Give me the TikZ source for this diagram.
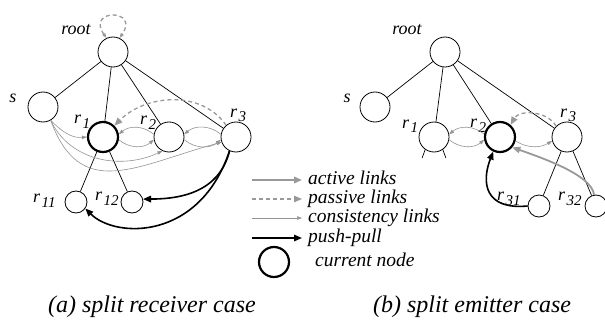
\documentclass[tikz,border=0pt]{standalone}
\usepackage{fontspec}
\setmainfont{Liberation Serif}
\usetikzlibrary{arrows.meta}
\newcommand{\rsub}[1]{r\kern1.5pt\raisebox{-5pt}{\fontsize{15}{16}\selectfont #1}}
\tikzset{
  >=latex,
  bigtip/.tip={Triangle[length=8pt,width=6.5pt]},
  smalltip/.tip={Triangle[length=5pt,width=3.5pt]},
}
\tikzstyle{every node}=[font=\itshape\fontsize{18}{20}\selectfont]
\tikzstyle{peer}=[circle,draw,line width=0.8pt,minimum size=30pt,inner sep=0pt]
\tikzstyle{leaf}=[circle,draw,line width=0.8pt,minimum size=22pt,inner sep=0pt]
\tikzstyle{current}=[line width=2.2pt]
\tikzstyle{tree}=[line width=0.7pt]
\tikzstyle{lbl}=[anchor=base west,inner sep=0pt]
\tikzstyle{active}=[line width=1.8pt,gray!80,-bigtip]
\tikzstyle{passive}=[line width=1.3pt,gray!80,dash pattern=on 4pt off 3pt,-bigtip]
\tikzstyle{consist}=[line width=0.6pt,gray!85,-smalltip]
\tikzstyle{pushpull}=[line width=1.6pt,-bigtip]
\tikzstyle{legend}=[font=\itshape\fontsize{19.5}{21}\selectfont,anchor=base west,inner sep=0pt]
\tikzstyle{caption}=[font=\itshape\fontsize{24}{26}\selectfont,anchor=base,inner sep=0pt]

\begin{document}
\begin{tikzpicture}[x=1pt,y=1pt]
    \useasboundingbox (0,0) rectangle (605,322);
    % (a) split receiver case
    \node[peer] (aroot) at (113,270) {};
    \node[peer] (as) at (43,215) {};
    \node[peer,current] (ar1) at (103,185) {};
    \node[peer] (ar2) at (169,185) {};
    \node[peer] (ar3) at (236,185) {};
    \node[leaf] (ar11) at (76,120) {};
    \node[leaf] (ar12) at (132,120) {};
    \foreach \n in {as,ar1,ar2,ar3} \draw[tree] (aroot)--(\n);
    \foreach \n in {ar11,ar12} \draw[tree] (ar1)--(\n);
    \node[anchor=base,inner sep=0pt] (arootl) at (76,287) {root};
    \node[anchor=base,inner sep=0pt] (asl) at (13,220) {s};
    \node[lbl] (ar1l) at (74,199) {\rsub{1}};
    \node[lbl] (ar2l) at (140,197) {\rsub{2}};
    \node[lbl] (ar3l) at (230,205) {\rsub{3}};
    \node[lbl] (ar11l) at (33,120) {\rsub{11}};
    \node[lbl] (ar12l) at (95,122) {\rsub{12}};
    \draw[passive,smalltip-smalltip] (aroot.115) .. controls +(125:36) and +(55:36) .. (aroot.65);
    \draw[passive] (ar3.130) to[out=125,in=45] (ar1.45);
    \draw[consist] (ar2.170) to[bend right=40] (ar1.10);
    \draw[consist] (ar1.-10) to[bend right=40] (ar2.190);
    \draw[consist] (ar3.170) to[bend right=40] (ar2.10);
    \draw[consist] (ar2.-10) to[bend right=40] (ar3.190);
    \draw[consist] (as.-60) to[out=-45,in=185] (ar1.180);
    \draw[consist] (as.-60) to[out=-65,in=205] (ar2.-115);
    \draw[consist] (as.-60) to[out=-70,in=195,looseness=1.3] (ar3.200);
    \draw[pushpull] (ar3.-115) .. controls +(-10,-40) and +(40,0) .. (ar12.15);
    \draw[pushpull] (ar3.-115) .. controls +(-30,-90) and +(30,-30) .. (ar11.-35);

    % (b) split emitter case
    \node[peer] (broot) at (445,270) {};
    \node[peer] (bs) at (375,215) {};
    \node[peer] (br1) at (434,185) {};
    \node[peer,current] (br2) at (500,185) {};
    \node[peer] (br3) at (567,185) {};
    \node[leaf] (br31) at (539,116) {};
    \node[leaf] (br32) at (596,116) {};
    \foreach \n in {bs,br1,br2,br3} \draw[tree] (broot)--(\n);
    \foreach \n in {br31,br32} \draw[tree] (br3)--(\n);
    \draw[tree] (br1.-125) -- +(-110:9);
    \draw[tree] (br1.-55) -- +(-70:9);
    \node[anchor=base,inner sep=0pt] (brootl) at (407,287) {root};
    \node[anchor=base,inner sep=0pt] (bsl) at (347,220) {s};
    \node[lbl] (br1l) at (402,194) {\rsub{1}};
    \node[lbl] (br2l) at (470,195) {\rsub{2}};
    \node[lbl] (br3l) at (560,205) {\rsub{3}};
    \node[lbl] (br31l) at (497,122) {\rsub{31}};
    \node[lbl] (br32l) at (558,122) {\rsub{32}};
    \draw[passive] (br3.135) to[out=120,in=60] (br2.49);
    \draw[consist] (br2.170) to[bend right=40] (br1.10);
    \draw[consist] (br1.-10) to[bend right=40] (br2.190);
    \draw[consist] (br2.-15) to[bend right=30] (br3.195);
    \draw[active] (br32.100) .. controls +(-2,20) and +(28,-10) .. (br2.-40);
    \draw[pushpull] (br31.180) .. controls +(-43,-4) and +(-12,-31) .. (br2.-115);

    % legend
    \coordinate (act0) at (252,142); \coordinate (act1) at (302,142);
    \coordinate (pas0) at (252,123); \coordinate (pas1) at (302,123);
    \coordinate (con0) at (252,104); \coordinate (con1) at (302,104);
    \coordinate (pp0) at (252,84);  \coordinate (pp1) at (302,84);
    \draw[active] (act0)--(act1);
    \draw[passive] (pas0)--(pas1);
    \draw[consist] (con0)--(con1);
    \draw[pushpull] (pp0)--(pp1);
    \node[peer,current] (cur) at (274,60) {};
    \node[legend] (actl) at (308,138) {active links};
    \node[legend] (pasl) at (308,119) {passive links};
    \node[legend] (conl) at (308,100) {consistency links};
    \node[legend] (ppl) at (308,80) {push-pull};
    \node[legend] (curl) at (315,56) {current node};

    \node[caption] (capa) at (152,10) {(a) split receiver case};
    \node[caption] (capb) at (472,10) {(b) split emitter case};
  \end{tikzpicture}
\end{document}
